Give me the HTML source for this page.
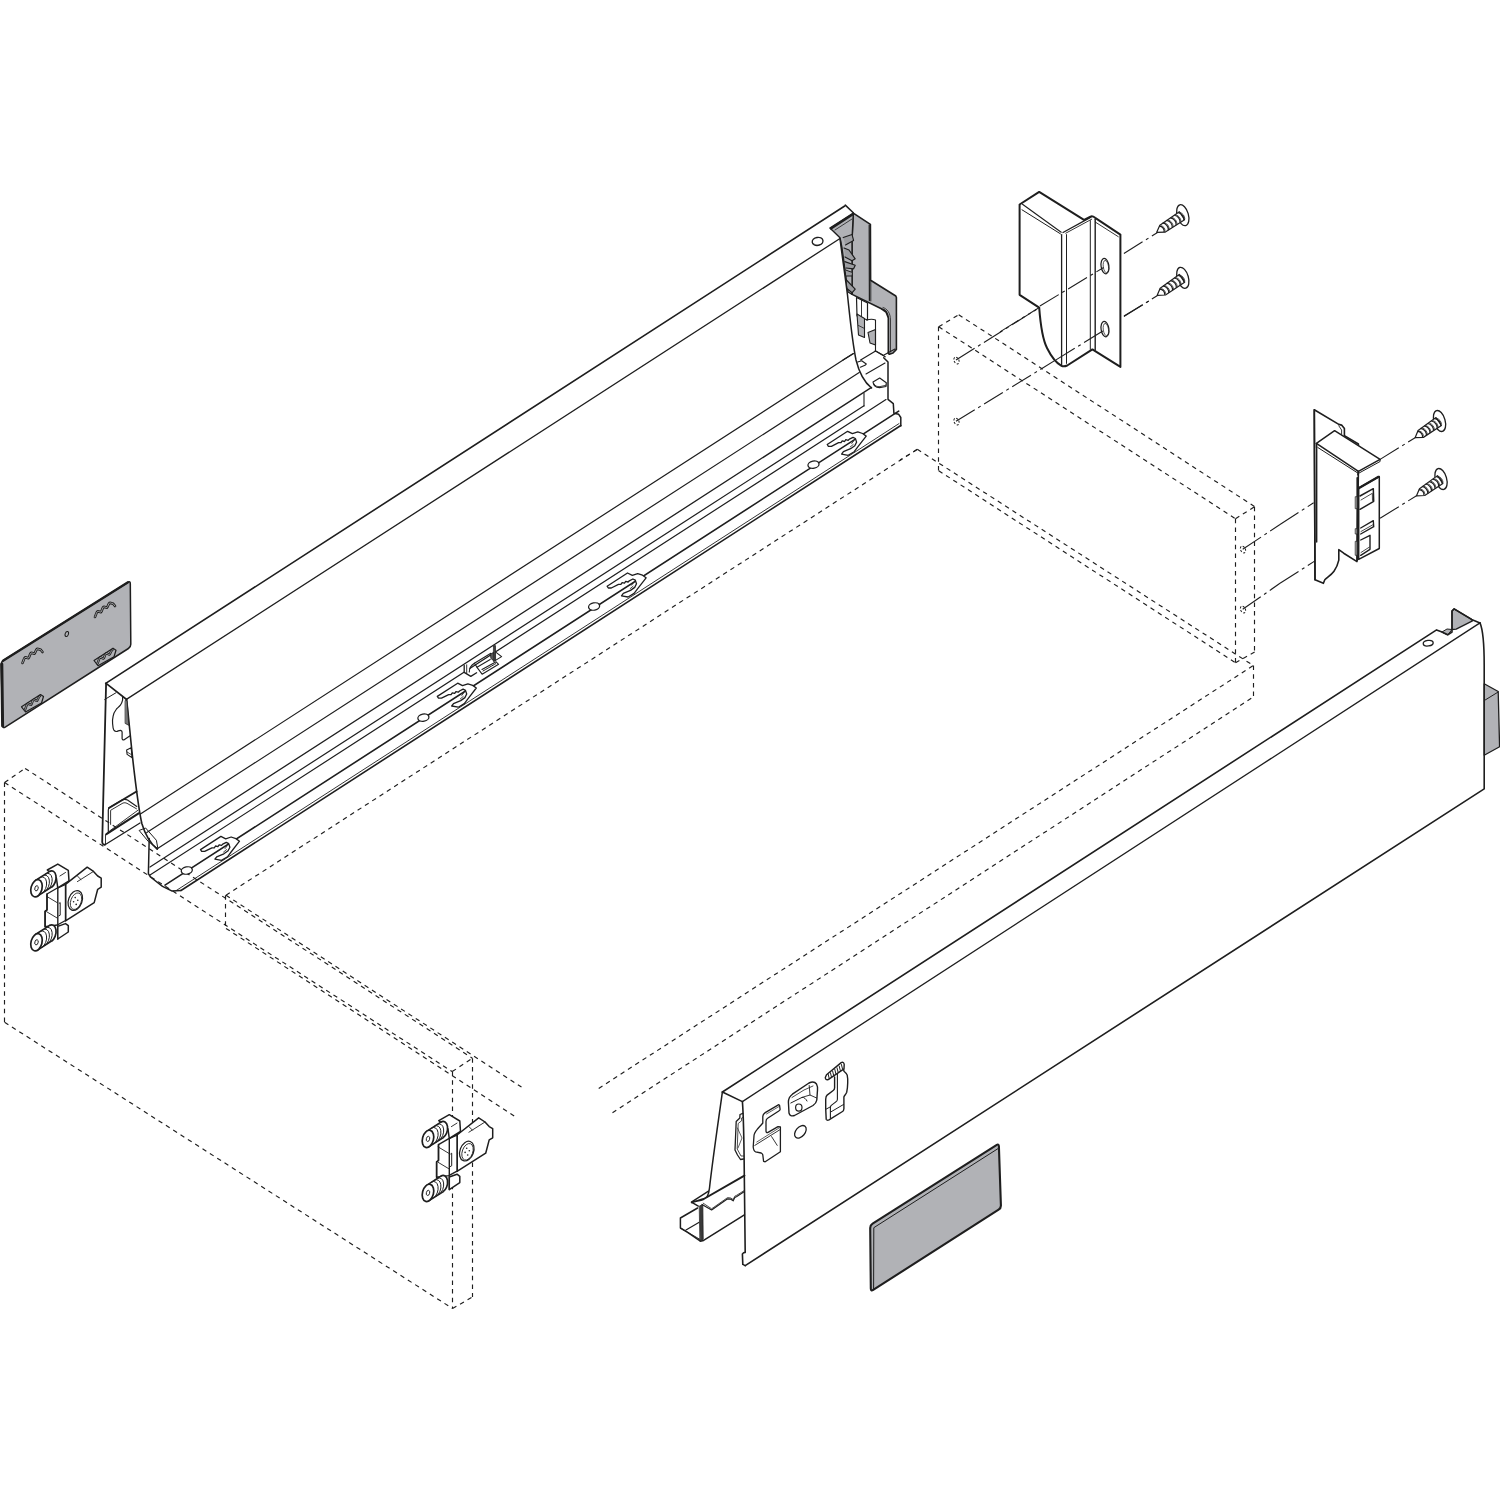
<!DOCTYPE html>
<html><head><meta charset="utf-8"><style>
html,body{margin:0;padding:0;background:#fff;}
svg{display:block;}
</style></head><body>
<svg width="1500" height="1500" viewBox="0 0 1500 1500">
<rect width="1500" height="1500" fill="#fff"/>
<line x1="4.5" y1="782.5" x2="4.5" y2="1022.3" stroke="#1e1e1e" stroke-width="1.15" stroke-dasharray="4.5,4.2" stroke-linecap="butt"/>
<line x1="4.6" y1="1022.3" x2="452.5" y2="1308.5" stroke="#1e1e1e" stroke-width="1.15" stroke-dasharray="4.5,4.2" stroke-linecap="butt"/>
<line x1="452.5" y1="1071.6" x2="452.5" y2="1308.5" stroke="#1e1e1e" stroke-width="1.15" stroke-dasharray="4.5,4.2" stroke-linecap="butt"/>
<line x1="4.6" y1="782.5" x2="452.2" y2="1071.6" stroke="#1e1e1e" stroke-width="1.15" stroke-dasharray="4.5,4.2" stroke-linecap="butt"/>
<line x1="25.1" y1="768.4" x2="472.4" y2="1058.2" stroke="#1e1e1e" stroke-width="1.15" stroke-dasharray="4.5,4.2" stroke-linecap="butt"/>
<line x1="4.6" y1="782.5" x2="25.1" y2="768.4" stroke="#1e1e1e" stroke-width="1.15" stroke-dasharray="4.5,4.2" stroke-linecap="butt"/>
<line x1="452.2" y1="1071.6" x2="472.4" y2="1058.2" stroke="#1e1e1e" stroke-width="1.15" stroke-dasharray="4.5,4.2" stroke-linecap="butt"/>
<line x1="472.5" y1="1058.2" x2="472.5" y2="1296.9" stroke="#1e1e1e" stroke-width="1.15" stroke-dasharray="4.5,4.2" stroke-linecap="butt"/>
<line x1="452.5" y1="1308.5" x2="472.6" y2="1296.9" stroke="#1e1e1e" stroke-width="1.15" stroke-dasharray="4.5,4.2" stroke-linecap="butt"/>
<line x1="225.5" y1="895.2" x2="225.5" y2="928.4" stroke="#1e1e1e" stroke-width="1.15" stroke-dasharray="4.5,4.2" stroke-linecap="butt"/>
<line x1="226.0" y1="895.2" x2="521.5" y2="1087.1" stroke="#1e1e1e" stroke-width="1.15" stroke-dasharray="4.5,4.2" stroke-linecap="butt"/>
<line x1="226.0" y1="928.4" x2="517.2" y2="1117.9" stroke="#1e1e1e" stroke-width="1.15" stroke-dasharray="4.5,4.2" stroke-linecap="butt"/>
<line x1="226.0" y1="895.2" x2="917.3" y2="449.3" stroke="#1e1e1e" stroke-width="1.15" stroke-dasharray="4.5,4.2" stroke-linecap="butt"/>
<line x1="598.7" y1="1088.4" x2="1253.3" y2="665.5" stroke="#1e1e1e" stroke-width="1.15" stroke-dasharray="4.5,4.2" stroke-linecap="butt"/>
<line x1="612.5" y1="1112.7" x2="1253.3" y2="697.0" stroke="#1e1e1e" stroke-width="1.15" stroke-dasharray="4.5,4.2" stroke-linecap="butt"/>
<line x1="917.3" y1="449.3" x2="1253.3" y2="665.5" stroke="#1e1e1e" stroke-width="1.15" stroke-dasharray="4.5,4.2" stroke-linecap="butt"/>
<line x1="1253.5" y1="665.5" x2="1253.5" y2="697.0" stroke="#1e1e1e" stroke-width="1.15" stroke-dasharray="4.5,4.2" stroke-linecap="butt"/>
<line x1="917.3" y1="449.3" x2="900.0" y2="460.0" stroke="#1e1e1e" stroke-width="1.15" stroke-dasharray="4.5,4.2" stroke-linecap="butt"/>
<line x1="938.5" y1="326.7" x2="938.5" y2="470.7" stroke="#1e1e1e" stroke-width="1.15" stroke-dasharray="4.5,4.2" stroke-linecap="butt"/>
<line x1="938.7" y1="326.7" x2="958.7" y2="314.7" stroke="#1e1e1e" stroke-width="1.15" stroke-dasharray="4.5,4.2" stroke-linecap="butt"/>
<line x1="938.7" y1="326.7" x2="1235.5" y2="518.7" stroke="#1e1e1e" stroke-width="1.15" stroke-dasharray="4.5,4.2" stroke-linecap="butt"/>
<line x1="958.7" y1="314.7" x2="1254.7" y2="506.7" stroke="#1e1e1e" stroke-width="1.15" stroke-dasharray="4.5,4.2" stroke-linecap="butt"/>
<line x1="1235.5" y1="518.7" x2="1254.7" y2="506.7" stroke="#1e1e1e" stroke-width="1.15" stroke-dasharray="4.5,4.2" stroke-linecap="butt"/>
<line x1="1235.5" y1="518.7" x2="1235.5" y2="662.7" stroke="#1e1e1e" stroke-width="1.15" stroke-dasharray="4.5,4.2" stroke-linecap="butt"/>
<line x1="1254.5" y1="506.7" x2="1254.5" y2="652.0" stroke="#1e1e1e" stroke-width="1.15" stroke-dasharray="4.5,4.2" stroke-linecap="butt"/>
<line x1="938.7" y1="470.7" x2="1235.5" y2="662.7" stroke="#1e1e1e" stroke-width="1.15" stroke-dasharray="4.5,4.2" stroke-linecap="butt"/>
<line x1="1235.5" y1="662.7" x2="1254.7" y2="652.0" stroke="#1e1e1e" stroke-width="1.15" stroke-dasharray="4.5,4.2" stroke-linecap="butt"/>
<line x1="105.7" y1="683.4" x2="844.7" y2="206.0" stroke="#1e1e1e" stroke-width="1.6" stroke-linecap="round"/>
<line x1="126.4" y1="699.4" x2="840.0" y2="238.5" stroke="#1e1e1e" stroke-width="1.3" stroke-linecap="round"/>
<line x1="140.4" y1="814.0" x2="852.8" y2="353.8" stroke="#1e1e1e" stroke-width="1.2" stroke-linecap="round"/>
<line x1="146.8" y1="832.6" x2="859.2" y2="372.4" stroke="#1e1e1e" stroke-width="1.2" stroke-linecap="round"/>
<line x1="157.2" y1="848.8" x2="871.5" y2="387.4" stroke="#1e1e1e" stroke-width="1.3" stroke-linecap="round"/>
<line x1="150.0" y1="867.0" x2="864.0" y2="405.8" stroke="#1e1e1e" stroke-width="1.2" stroke-linecap="round"/>
<line x1="150.0" y1="875.1" x2="886.0" y2="399.6" stroke="#1e1e1e" stroke-width="1.2" stroke-linecap="round"/>
<line x1="165.0" y1="885.1" x2="898.7" y2="411.1" stroke="#1e1e1e" stroke-width="1.6" stroke-linecap="round"/>
<line x1="181.0" y1="890.5" x2="900.8" y2="425.5" stroke="#1e1e1e" stroke-width="1.6" stroke-linecap="round"/>
<line x1="176.0" y1="890.7" x2="899.0" y2="423.6" stroke="#1e1e1e" stroke-width="0.9" stroke-linecap="round"/>
<path d="M106.1,683.3 L126.6,699.5" fill="none" stroke="#1e1e1e" stroke-width="1.6" stroke-linejoin="round" stroke-linecap="round" />
<path d="M106.1,683.3 L102.2,842 Q102.5,845 105,844.7" fill="none" stroke="#1e1e1e" stroke-width="1.8" stroke-linejoin="round" stroke-linecap="round" />
<path d="M105.5,834.6 L105.5,844.4" fill="none" stroke="#1e1e1e" stroke-width="0.9" stroke-linejoin="round" stroke-linecap="round" />
<path d="M104.7,699.5 L115.9,692.8" fill="none" stroke="#1e1e1e" stroke-width="1.0" stroke-linejoin="round" stroke-linecap="round" />
<path d="M126.6,699.5 C129,720 131,745 134,770 C137,795 139,812 142,824 C145,834 150,843 157.2,849.2" fill="none" stroke="#1e1e1e" stroke-width="1.6" stroke-linejoin="round" stroke-linecap="round" />
<path d="M122.6,697.3 L122.6,700.1 C122,702.5 121.5,703.8 120.4,705.1 C119,706.8 117.6,707.8 116.5,709 C114.6,711.5 113.4,713.5 113.1,716.3 C112.4,719 112.4,721.5 112.6,723.6 C112.8,726 113,728.5 113.7,729.8 C114.6,731 115.5,731.6 116.5,731.5 C117.8,731.3 119.2,730.2 120.4,730.3 C121.5,730.5 122.1,731.2 122.1,732 L122.1,738.7 C122.3,739.5 123,740.2 123.8,739.9 L129.7,736" fill="none" stroke="#1e1e1e" stroke-width="1.2" stroke-linejoin="round" stroke-linecap="round" />
<path d="M125.5,700.6 L127.1,700.6 L128.8,725.3 L125.5,723.6 Z" fill="#777" stroke="#1e1e1e" stroke-width="0.8" stroke-linejoin="round" stroke-linecap="round" />
<path d="M126.6,750.0 L131.1,747.7 L132.2,757.8 L127.1,754.4 Z" fill="none" stroke="#1e1e1e" stroke-width="1.1" stroke-linejoin="round" stroke-linecap="round" />
<path d="M127.1,752 L132,755" fill="none" stroke="#1e1e1e" stroke-width="0.8" stroke-linejoin="round" stroke-linecap="round" />
<path d="M109,808 L136.5,791.5" fill="none" stroke="#1e1e1e" stroke-width="2.0" stroke-linejoin="round" stroke-linecap="round" />
<path d="M108.3,832.8 L108.3,810 Q108.3,807.5 110.5,806.8 L122.5,799.8 Q125,798.8 127.5,800 L136.8,806.5" fill="none" stroke="#1e1e1e" stroke-width="1.2" stroke-linejoin="round" stroke-linecap="round" />
<path d="M110.6,824.4 L110.6,810.3 L123,803 Q125,802.3 127,803.3 L136.5,808.8" fill="none" stroke="#1e1e1e" stroke-width="0.9" stroke-linejoin="round" stroke-linecap="round" />
<path d="M106.4,834.2 L138.6,813.3" fill="none" stroke="#1e1e1e" stroke-width="2.1" stroke-linejoin="round" stroke-linecap="round" />
<path d="M109.7,830.9 L138,810.2" fill="none" stroke="#1e1e1e" stroke-width="0.9" stroke-linejoin="round" stroke-linecap="round" />
<path d="M105,844.7 L140,823" fill="none" stroke="#1e1e1e" stroke-width="1.3" stroke-linejoin="round" stroke-linecap="round" />
<path d="M139.5,830.3 L145.6,828.0 L156.4,840.3 L157.9,848.7 L148.7,841.8 Z" fill="none" stroke="#1e1e1e" stroke-width="1.0" stroke-linejoin="round" stroke-linecap="round" />
<path d="M149.2,838.4 L148.4,873.6 L150.5,877 L162.5,886.3 L171.7,890.9 L181,890.4" fill="none" stroke="#1e1e1e" stroke-width="1.5" stroke-linejoin="round" stroke-linecap="round" />
<ellipse cx="186.8" cy="870.5" rx="5.6" ry="3.6" fill="#fff" stroke="#1e1e1e" stroke-width="1.3" transform="rotate(-12 186.8 870.5)"/>
<ellipse cx="423.4" cy="717.7" rx="5.6" ry="3.6" fill="#fff" stroke="#1e1e1e" stroke-width="1.3" transform="rotate(-12 423.4 717.7)"/>
<ellipse cx="594.1" cy="606.5" rx="5.6" ry="3.6" fill="#fff" stroke="#1e1e1e" stroke-width="1.3" transform="rotate(-12 594.1 606.5)"/>
<ellipse cx="813.5" cy="464.7" rx="5.6" ry="3.6" fill="#fff" stroke="#1e1e1e" stroke-width="1.3" transform="rotate(-12 813.5 464.7)"/>
<g transform="translate(200.5,849.6)">
<path d="M0,0 L20.4,-13.2 L25.2,-10.8 L30.6,-12.6 L35.4,-11 L39,-8.4 L30.6,2.4 L27,7.2 L21,10.8 L14.4,9.6 L16.2,7.2 L23.4,4.2 L27.6,1.2 L29.4,-2.4 L28.2,-6 L25.8,-7.2 L22.2,-5.4 L21,-4.2 L18.6,-4.8 L17.4,-3 L15,-3.6 L13.8,-1.8 L11.4,-1.8 L4.2,1.8 L1.2,1.8 Z" fill="#fff" stroke="#1e1e1e" stroke-width="1.3" stroke-linejoin="round" stroke-linecap="round" />
<path d="M24.5,-1 L26.5,-3.5 M23,2.5 L26,0" fill="none" stroke="#1e1e1e" stroke-width="0.8" stroke-linejoin="round" stroke-linecap="round" />
</g>
<line x1="192.5" y1="854.8" x2="226.5" y2="845.8" stroke="#1e1e1e" stroke-width="0" stroke-linecap="round"/>
<g transform="translate(437.3,696.4)">
<path d="M0,0 L20.4,-13.2 L25.2,-10.8 L30.6,-12.6 L35.4,-11 L39,-8.4 L30.6,2.4 L27,7.2 L21,10.8 L14.4,9.6 L16.2,7.2 L23.4,4.2 L27.6,1.2 L29.4,-2.4 L28.2,-6 L25.8,-7.2 L22.2,-5.4 L21,-4.2 L18.6,-4.8 L17.4,-3 L15,-3.6 L13.8,-1.8 L11.4,-1.8 L4.2,1.8 L1.2,1.8 Z" fill="#fff" stroke="#1e1e1e" stroke-width="1.3" stroke-linejoin="round" stroke-linecap="round" />
<path d="M24.5,-1 L26.5,-3.5 M23,2.5 L26,0" fill="none" stroke="#1e1e1e" stroke-width="0.8" stroke-linejoin="round" stroke-linecap="round" />
</g>
<line x1="429.3" y1="701.6" x2="463.3" y2="692.6" stroke="#1e1e1e" stroke-width="0" stroke-linecap="round"/>
<g transform="translate(607.1,586.2)">
<path d="M0,0 L20.4,-13.2 L25.2,-10.8 L30.6,-12.6 L35.4,-11 L39,-8.4 L30.6,2.4 L27,7.2 L21,10.8 L14.4,9.6 L16.2,7.2 L23.4,4.2 L27.6,1.2 L29.4,-2.4 L28.2,-6 L25.8,-7.2 L22.2,-5.4 L21,-4.2 L18.6,-4.8 L17.4,-3 L15,-3.6 L13.8,-1.8 L11.4,-1.8 L4.2,1.8 L1.2,1.8 Z" fill="#fff" stroke="#1e1e1e" stroke-width="1.3" stroke-linejoin="round" stroke-linecap="round" />
<path d="M24.5,-1 L26.5,-3.5 M23,2.5 L26,0" fill="none" stroke="#1e1e1e" stroke-width="0.8" stroke-linejoin="round" stroke-linecap="round" />
</g>
<line x1="599.1" y1="591.4" x2="633.1" y2="582.4" stroke="#1e1e1e" stroke-width="0" stroke-linecap="round"/>
<g transform="translate(827.2,444.5)">
<path d="M0,0 L20.4,-13.2 L25.2,-10.8 L30.6,-12.6 L35.4,-11 L39,-8.4 L30.6,2.4 L27,7.2 L21,10.8 L14.4,9.6 L16.2,7.2 L23.4,4.2 L27.6,1.2 L29.4,-2.4 L28.2,-6 L25.8,-7.2 L22.2,-5.4 L21,-4.2 L18.6,-4.8 L17.4,-3 L15,-3.6 L13.8,-1.8 L11.4,-1.8 L4.2,1.8 L1.2,1.8 Z" fill="#fff" stroke="#1e1e1e" stroke-width="1.3" stroke-linejoin="round" stroke-linecap="round" />
<path d="M24.5,-1 L26.5,-3.5 M23,2.5 L26,0" fill="none" stroke="#1e1e1e" stroke-width="0.8" stroke-linejoin="round" stroke-linecap="round" />
</g>
<line x1="819.2" y1="449.7" x2="853.2" y2="440.7" stroke="#1e1e1e" stroke-width="0" stroke-linecap="round"/>
<path d="M464.2,665.4 L464.2,672.4 L470.8,676.4 L476.6,672.8" fill="#fff" stroke="#1e1e1e" stroke-width="1.3" stroke-linejoin="round" stroke-linecap="round" />
<path d="M466.7,664.8 L466.7,673" fill="none" stroke="#1e1e1e" stroke-width="0.9" stroke-linejoin="round" stroke-linecap="round" />
<path d="M469.3,672 C469.3,668 471.5,665 474.4,663.2 L490.9,653.3" fill="none" stroke="#1e1e1e" stroke-width="1.1" stroke-linejoin="round" stroke-linecap="round" />
<path d="M474.4,663.2 L477,667.3 L490.2,659.6" fill="none" stroke="#1e1e1e" stroke-width="1.1" stroke-linejoin="round" stroke-linecap="round" />
<path d="M477,667.3 L482.1,674.2 L498.6,664.3 L496.1,661.8 L482,669.5" fill="none" stroke="#1e1e1e" stroke-width="1.1" stroke-linejoin="round" stroke-linecap="round" />
<path d="M483,671 L496,663.5" fill="none" stroke="#1e1e1e" stroke-width="1.0" stroke-linejoin="round" stroke-linecap="round" stroke-dasharray="1,0.7"/>
<path d="M496.4,652.6 L501.6,656.6 L493.9,661.4" fill="none" stroke="#1e1e1e" stroke-width="1.1" stroke-linejoin="round" stroke-linecap="round" />
<path d="M493.9,645.8 L495.4,645.5 L495.6,660.5 L493.6,661 Z" fill="#444" stroke="#1e1e1e" stroke-width="0.8" stroke-linejoin="round" stroke-linecap="round" />
<path d="M490.6,654.2 L493.6,652.3 L494,660.5 L491.2,658.8 Z" fill="#555" stroke="#1e1e1e" stroke-width="0.8" stroke-linejoin="round" stroke-linecap="round" />
<path d="M845.3,205.1 L853.3,212.8" fill="none" stroke="#1e1e1e" stroke-width="1.5" stroke-linejoin="round" stroke-linecap="round" />
<ellipse cx="817.6" cy="241.4" rx="5.4" ry="4.0" fill="#fff" stroke="#1e1e1e" stroke-width="1.4" transform="rotate(-10 817.6 241.4)"/>
<path d="M813.5,243.5 C815,246 820,246 822.5,243" fill="none" stroke="#1e1e1e" stroke-width="0.8" stroke-linejoin="round" stroke-linecap="round" />
<path d="M853.3,213.1 L870.4,224.3 L870.6,280.2 L895.8,296.0 L896.4,297.5 L896.4,349.4 L893.0,353.0 L889.4,354.2 L888.4,353.6 L888.4,318.0 L886.0,312.0 L881.4,308.8 L852.1,294.4 L852.0,240.0 Z" fill="#b1b2b6" stroke="#1e1e1e" stroke-width="1.6" stroke-linejoin="round" stroke-linecap="round" />
<path d="M869.2,225 L869.4,300.5" fill="none" stroke="#1e1e1e" stroke-width="1.2" stroke-linejoin="round" stroke-linecap="round" />
<path d="M870.8,280.8 L870.8,301" fill="none" stroke="#1e1e1e" stroke-width="0.9" stroke-linejoin="round" stroke-linecap="round" />
<path d="M888.4,353 L888.4,318 C888.4,313 885,309 881.4,308.8" fill="none" stroke="#1e1e1e" stroke-width="1.1" stroke-linejoin="round" stroke-linecap="round" />
<path d="M890.5,352 L890.5,320 C890.5,313 887,308.5 883,307.5" fill="none" stroke="#1e1e1e" stroke-width="0.8" stroke-linejoin="round" stroke-linecap="round" />
<path d="M856.5,297.5 L867.5,303 L867.5,320 L857,316 Z" fill="#fff" stroke="#1e1e1e" stroke-width="1.2" stroke-linejoin="round" stroke-linecap="round" />
<path d="M861.5,299.5 L861.5,318" fill="none" stroke="#1e1e1e" stroke-width="0.9" stroke-linejoin="round" stroke-linecap="round" />
<path d="M857,314 L864.5,318.5 L864.5,337.5 L858.5,335 Z" fill="#b1b2b6" stroke="#1e1e1e" stroke-width="1.1" stroke-linejoin="round" stroke-linecap="round" />
<path d="M858.5,325.5 L864.5,328.5" fill="none" stroke="#1e1e1e" stroke-width="0.8" stroke-linejoin="round" stroke-linecap="round" />
<path d="M868,332.5 L875.5,329.5 L875.5,345 L870,343 Z" fill="#b1b2b6" stroke="#1e1e1e" stroke-width="1.1" stroke-linejoin="round" stroke-linecap="round" />
<path d="M866.5,320 C870,319 873,319 875.5,320 L875.5,351" fill="none" stroke="#1e1e1e" stroke-width="1.1" stroke-linejoin="round" stroke-linecap="round" />
<path d="M853.7,353.6 L843,360 M860.6,360 L875.6,351 L885.2,356.8" fill="none" stroke="#1e1e1e" stroke-width="1.2" stroke-linejoin="round" stroke-linecap="round" />
<path d="M829.9,228.1 L853.3,213.1 L852.0,240.0 L852.1,294.4 L848.0,292.0 L842.0,248.0 L840.0,237.7 Z" fill="#b1b2b6" stroke="#1e1e1e" stroke-width="1.4" stroke-linejoin="round" stroke-linecap="round" />
<path d="M831,228.5 L852.5,214.5" fill="none" stroke="#1e1e1e" stroke-width="2.2" stroke-linejoin="round" stroke-linecap="round" />
<path d="M835,230 L852,219" fill="none" stroke="#1e1e1e" stroke-width="0.8" stroke-linejoin="round" stroke-linecap="round" />
<path d="M843.2,237.6 L852,234.4 L853.6,240.5 L845.5,245" fill="#9c9da1" stroke="#1e1e1e" stroke-width="1.1" stroke-linejoin="round" stroke-linecap="round" />
<path d="M844,248 L849,250 L855.2,258.8 L852,260.8 L845,257" fill="#9c9da1" stroke="#1e1e1e" stroke-width="1.2" stroke-linejoin="round" stroke-linecap="round" />
<path d="M844.8,261.6 L855.2,265.2 L853.6,268.8 L846,268" fill="#9c9da1" stroke="#1e1e1e" stroke-width="1.2" stroke-linejoin="round" stroke-linecap="round" />
<path d="M845.6,270 L852.5,272.5 L852,276 L846.3,276" fill="#9c9da1" stroke="#1e1e1e" stroke-width="1.0" stroke-linejoin="round" stroke-linecap="round" />
<path d="M846.4,280 L855.2,289.2 L852,292.8 L847.5,289" fill="#9c9da1" stroke="#1e1e1e" stroke-width="1.2" stroke-linejoin="round" stroke-linecap="round" />
<path d="M840,238.4 C842,255 845,275 847.5,295 C850,318 852,340 856,360 C859,372 864,382 871.5,388" fill="none" stroke="#1e1e1e" stroke-width="1.5" stroke-linejoin="round" stroke-linecap="round" />
<path d="M875.2,350.8 L883.7,355.6" fill="none" stroke="#1e1e1e" stroke-width="1.1" stroke-linejoin="round" stroke-linecap="round" />
<path d="M883.7,357.7 L888,362 L888,399.3 L893.3,403.6 L893.9,413.2 L898.7,414.3 L900.8,417.5 L900.8,426" fill="none" stroke="#1e1e1e" stroke-width="1.5" stroke-linejoin="round" stroke-linecap="round" />
<path d="M864,393.5 L864,406" fill="none" stroke="#1e1e1e" stroke-width="1.1" stroke-linejoin="round" stroke-linecap="round" />
<path d="M857.7,362 L861.7,360.7 L866.3,364 L865,365.3 L860.3,367.3" fill="none" stroke="#1e1e1e" stroke-width="1.1" stroke-linejoin="round" stroke-linecap="round" />
<path d="M866,374 L885,363" fill="none" stroke="#1e1e1e" stroke-width="1.1" stroke-linejoin="round" stroke-linecap="round" />
<path d="M873,382 L879.7,378 L886.3,382.7 L886,386.5 L879.5,387.7 C876,387.5 873.5,385.5 873,382 Z" fill="#fff" stroke="#1e1e1e" stroke-width="1.2" stroke-linejoin="round" stroke-linecap="round" />
<path d="M874,383.8 C875,386 877,386.8 880,386.6 L886,385.2" fill="none" stroke="#1e1e1e" stroke-width="0.8" stroke-linejoin="round" stroke-linecap="round" />
<path d="M884,355 L895,349" fill="none" stroke="#1e1e1e" stroke-width="1.1" stroke-linejoin="round" stroke-linecap="round" />
<path d="M1.1,664.5 Q1.1,661.8 3.4,660.4 L127.9,582.3 Q130.3,580.8 130.3,583.6 L130.8,644.2 Q130.8,647 128.4,648.5 L5.2,727.1 Q2.8,728.6 2.8,725.8 Z" fill="#b1b2b6" stroke="#1e1e1e" stroke-width="1.5" stroke-linejoin="round" stroke-linecap="round" />
<path d="M3,660.8 L128,582.3" fill="none" stroke="#1e1e1e" stroke-width="2.4" stroke-linejoin="round" stroke-linecap="round" />
<path d="M1.8,664 L2.6,726" fill="none" stroke="#1e1e1e" stroke-width="3.0" stroke-linejoin="round" stroke-linecap="round" />
<ellipse cx="66.8" cy="634" rx="1.6" ry="2.6" fill="none" stroke="#1e1e1e" stroke-width="1.0" transform="rotate(20 66.8 634)"/>
<path d="M22.5,663 C23.5,661 24.0,658 25.0,657.5 C26.5,657 27.5,658.5 28.5,658 C29.5,657 30.0,653.5 31.0,653 C32.5,652.5 33.5,654 34.5,653.5 C35.5,652.5 36.0,649.5 37.0,649 C38.5,648.5 39.5,650 40.5,649.5 L42.5,652" fill="none" stroke="#1e1e1e" stroke-width="2.6" stroke-linejoin="round" stroke-linecap="round" />
<path d="M22.5,663 C23.5,661 24.0,658 25.0,657.5 C26.5,657 27.5,658.5 28.5,658 C29.5,657 30.0,653.5 31.0,653 C32.5,652.5 33.5,654 34.5,653.5 C35.5,652.5 36.0,649.5 37.0,649 C38.5,648.5 39.5,650 40.5,649.5 L42.5,652" fill="none" stroke="#b1b2b6" stroke-width="0.9" stroke-linejoin="round" stroke-linecap="round" />
<path d="M95,617 C96,615 96.5,612 97.5,611.5 C99,611 100,612.5 101,612 C102,611 102.5,607.5 103.5,607 C105,606.5 106,608 107,607.5 C108,606.5 108.5,603.5 109.5,603 C111,602.5 112,604 113,603.5 L115,606" fill="none" stroke="#1e1e1e" stroke-width="2.6" stroke-linejoin="round" stroke-linecap="round" />
<path d="M95,617 C96,615 96.5,612 97.5,611.5 C99,611 100,612.5 101,612 C102,611 102.5,607.5 103.5,607 C105,606.5 106,608 107,607.5 C108,606.5 108.5,603.5 109.5,603 C111,602.5 112,604 113,603.5 L115,606" fill="none" stroke="#b1b2b6" stroke-width="0.9" stroke-linejoin="round" stroke-linecap="round" />
<path d="M21.5,706.8 L40.5,694.5 L43.5,696.5 L41.5,703.0 L25.5,712.0 Z" fill="none" stroke="#1e1e1e" stroke-width="1.2" stroke-linejoin="round" stroke-linecap="round" />
<path d="M25.0,709.8 C26.0,707.8 26.5,704.8 27.5,703.8 C29.0,703.3 30.0,705.3 31.0,704.8 C32.0,703.8 32.5,700.3 33.5,699.8 C35.0,699.3 36.0,701.3 37.0,700.8 C38.0,699.8 38.5,696.8 40.0,696.0" fill="none" stroke="#1e1e1e" stroke-width="2.4" stroke-linejoin="round" stroke-linecap="round" />
<path d="M25.0,709.8 C26.0,707.8 26.5,704.8 27.5,703.8 C29.0,703.3 30.0,705.3 31.0,704.8 C32.0,703.8 32.5,700.3 33.5,699.8 C35.0,699.3 36.0,701.3 37.0,700.8 C38.0,699.8 38.5,696.8 40.0,696.0" fill="none" stroke="#b1b2b6" stroke-width="0.8" stroke-linejoin="round" stroke-linecap="round" />
<path d="M94.0,660.5 L113.0,648.2 L116.0,650.2 L114.0,656.7 L98.0,665.7 Z" fill="none" stroke="#1e1e1e" stroke-width="1.2" stroke-linejoin="round" stroke-linecap="round" />
<path d="M97.5,663.5 C98.5,661.5 99,658.5 100,657.5 C101.5,657.0 102.5,659.0 103.5,658.5 C104.5,657.5 105,654.0 106,653.5 C107.5,653.0 108.5,655.0 109.5,654.5 C110.5,653.5 111,650.5 112.5,649.7" fill="none" stroke="#1e1e1e" stroke-width="2.4" stroke-linejoin="round" stroke-linecap="round" />
<path d="M97.5,663.5 C98.5,661.5 99,658.5 100,657.5 C101.5,657.0 102.5,659.0 103.5,658.5 C104.5,657.5 105,654.0 106,653.5 C107.5,653.0 108.5,655.0 109.5,654.5 C110.5,653.5 111,650.5 112.5,649.7" fill="none" stroke="#b1b2b6" stroke-width="0.8" stroke-linejoin="round" stroke-linecap="round" />
<g>
<path d="M65.5,884.4 L87.2,867.2 L93.5,871.4 L97.7,876.0 L101.2,878.1 L101.2,887.2 L97.7,889.3 L94.2,902.6 L65.5,920.8 Z" fill="#fff" stroke="#1e1e1e" stroke-width="1.5" stroke-linejoin="round" stroke-linecap="round" />
<path d="M65.5,884.4 L65.5,920.8" fill="none" stroke="#1e1e1e" stroke-width="1.4" stroke-linejoin="round" stroke-linecap="round" />
<path d="M77.4,876.0 L80.9,879.5" fill="none" stroke="#1e1e1e" stroke-width="0.9" stroke-linejoin="round" stroke-linecap="round" />
<path d="M93.5,871.4 L77.4,881.6" fill="none" stroke="#1e1e1e" stroke-width="0.9" stroke-linejoin="round" stroke-linecap="round" />
<ellipse cx="75.3" cy="900.5" rx="6.8" ry="10.2" fill="#fff" stroke="#1e1e1e" stroke-width="1.2" transform="rotate(20 75.3 900.5)"/>
<ellipse cx="76.0" cy="901.2" rx="5.2" ry="8.6" fill="none" stroke="#1e1e1e" stroke-width="0.8" transform="rotate(20 76.0 901.2)"/>
<circle cx="75.2" cy="897.6" r="0.8" fill="#1e1e1e"/>
<circle cx="77.8" cy="900.2" r="0.8" fill="#1e1e1e"/>
<circle cx="73.6" cy="901.8" r="0.8" fill="#1e1e1e"/>
<circle cx="76.2" cy="904.4" r="0.8" fill="#1e1e1e"/>
<path d="M47,894 L57.3,888 L65.5,884.4 L65.5,920.5 L57.3,925 L45.1,926.7 L45.1,911.3 L47,909.9 Z" fill="#fff" stroke="#1e1e1e" stroke-width="1.4" stroke-linejoin="round" stroke-linecap="round" />
<path d="M57.8,888.6 L57.8,939.0" fill="none" stroke="#1e1e1e" stroke-width="1.4" stroke-linejoin="round" stroke-linecap="round" />
<path d="M46.6,896.3 L57.1,902.6" fill="none" stroke="#1e1e1e" stroke-width="0.9" stroke-linejoin="round" stroke-linecap="round" />
<path d="M46.6,911.7 L57.1,918.0" fill="none" stroke="#1e1e1e" stroke-width="0.9" stroke-linejoin="round" stroke-linecap="round" />
<path d="M59.2,903.3 L60.2,902.6 L60.2,915.2 L58.8,915.9" fill="none" stroke="#1e1e1e" stroke-width="1.0" stroke-linejoin="round" stroke-linecap="round" />
<path d="M47,894 L47,909.9 L45.1,911.3 L45.1,926.7" fill="none" stroke="#1e1e1e" stroke-width="1.5" stroke-linejoin="round" stroke-linecap="round" />
<path d="M47.3,870.0 L57.8,864.1 L68.3,870.4 L69.0,880.9 L57.8,887.9 L56.4,878.1 Z" fill="#fff" stroke="#1e1e1e" stroke-width="1.5" stroke-linejoin="round" stroke-linecap="round" />
<path d="M59.9,876.0 L65.5,872.5" fill="none" stroke="#1e1e1e" stroke-width="0.9" stroke-linejoin="round" stroke-linecap="round" />
<path d="M57.8,926.4 L65.5,923.6 L68.3,925.7 L68.3,932.0 L57.8,939.0 Z" fill="#fff" stroke="#1e1e1e" stroke-width="1.5" stroke-linejoin="round" stroke-linecap="round" />
<path d="M35.38,880.48 L49.27,871.59 A5.5,8.8 15 0 1 51.52,887.22 L37.62,896.12 Z" fill="#fff" stroke="none"/>
<path d="M49.27,871.59 A5.5,8.8 15 0 1 51.52,887.22" fill="none" stroke="#1e1e1e" stroke-width="1.7"/>
<line x1="35.4" y1="880.5" x2="49.3" y2="871.6" stroke="#1e1e1e" stroke-width="1.5" stroke-linecap="round"/>
<line x1="37.6" y1="896.1" x2="51.5" y2="887.2" stroke="#1e1e1e" stroke-width="1.5" stroke-linecap="round"/>
<path d="M39.82,877.64 A5.5,8.8 15 0 1 42.07,893.27" fill="none" stroke="#1e1e1e" stroke-width="1.0"/>
<path d="M42.60,875.86 A5.5,8.8 15 0 1 44.85,891.49" fill="none" stroke="#1e1e1e" stroke-width="1.0"/>
<path d="M45.38,874.08 A5.5,8.8 15 0 1 47.63,889.71" fill="none" stroke="#1e1e1e" stroke-width="1.0"/>
<ellipse cx="36.50" cy="888.30" rx="5.5" ry="8.8" fill="#fff" stroke="#1e1e1e" stroke-width="1.7" transform="rotate(15 36.50 888.30)"/>
<ellipse cx="36.50" cy="888.30" rx="1.65" ry="2.64" fill="none" stroke="#1e1e1e" stroke-width="0.9" transform="rotate(15 36.50 888.30)"/>
<path d="M35.38,934.48 L49.27,925.59 A5.5,8.8 15 0 1 51.52,941.22 L37.62,950.12 Z" fill="#fff" stroke="none"/>
<path d="M49.27,925.59 A5.5,8.8 15 0 1 51.52,941.22" fill="none" stroke="#1e1e1e" stroke-width="1.7"/>
<line x1="35.4" y1="934.5" x2="49.3" y2="925.6" stroke="#1e1e1e" stroke-width="1.5" stroke-linecap="round"/>
<line x1="37.6" y1="950.1" x2="51.5" y2="941.2" stroke="#1e1e1e" stroke-width="1.5" stroke-linecap="round"/>
<path d="M39.82,931.64 A5.5,8.8 15 0 1 42.07,947.27" fill="none" stroke="#1e1e1e" stroke-width="1.0"/>
<path d="M42.60,929.86 A5.5,8.8 15 0 1 44.85,945.49" fill="none" stroke="#1e1e1e" stroke-width="1.0"/>
<path d="M45.38,928.08 A5.5,8.8 15 0 1 47.63,943.71" fill="none" stroke="#1e1e1e" stroke-width="1.0"/>
<ellipse cx="36.50" cy="942.30" rx="5.5" ry="8.8" fill="#fff" stroke="#1e1e1e" stroke-width="1.7" transform="rotate(15 36.50 942.30)"/>
<ellipse cx="36.50" cy="942.30" rx="1.65" ry="2.64" fill="none" stroke="#1e1e1e" stroke-width="0.9" transform="rotate(15 36.50 942.30)"/>
</g>
<g transform="translate(391.5,250.6)">
<path d="M65.5,884.4 L87.2,867.2 L93.5,871.4 L97.7,876.0 L101.2,878.1 L101.2,887.2 L97.7,889.3 L94.2,902.6 L65.5,920.8 Z" fill="#fff" stroke="#1e1e1e" stroke-width="1.5" stroke-linejoin="round" stroke-linecap="round" />
<path d="M65.5,884.4 L65.5,920.8" fill="none" stroke="#1e1e1e" stroke-width="1.4" stroke-linejoin="round" stroke-linecap="round" />
<path d="M77.4,876.0 L80.9,879.5" fill="none" stroke="#1e1e1e" stroke-width="0.9" stroke-linejoin="round" stroke-linecap="round" />
<path d="M93.5,871.4 L77.4,881.6" fill="none" stroke="#1e1e1e" stroke-width="0.9" stroke-linejoin="round" stroke-linecap="round" />
<ellipse cx="75.3" cy="900.5" rx="6.8" ry="10.2" fill="#fff" stroke="#1e1e1e" stroke-width="1.2" transform="rotate(20 75.3 900.5)"/>
<ellipse cx="76.0" cy="901.2" rx="5.2" ry="8.6" fill="none" stroke="#1e1e1e" stroke-width="0.8" transform="rotate(20 76.0 901.2)"/>
<circle cx="75.2" cy="897.6" r="0.8" fill="#1e1e1e"/>
<circle cx="77.8" cy="900.2" r="0.8" fill="#1e1e1e"/>
<circle cx="73.6" cy="901.8" r="0.8" fill="#1e1e1e"/>
<circle cx="76.2" cy="904.4" r="0.8" fill="#1e1e1e"/>
<path d="M47,894 L57.3,888 L65.5,884.4 L65.5,920.5 L57.3,925 L45.1,926.7 L45.1,911.3 L47,909.9 Z" fill="#fff" stroke="#1e1e1e" stroke-width="1.4" stroke-linejoin="round" stroke-linecap="round" />
<path d="M57.8,888.6 L57.8,939.0" fill="none" stroke="#1e1e1e" stroke-width="1.4" stroke-linejoin="round" stroke-linecap="round" />
<path d="M46.6,896.3 L57.1,902.6" fill="none" stroke="#1e1e1e" stroke-width="0.9" stroke-linejoin="round" stroke-linecap="round" />
<path d="M46.6,911.7 L57.1,918.0" fill="none" stroke="#1e1e1e" stroke-width="0.9" stroke-linejoin="round" stroke-linecap="round" />
<path d="M59.2,903.3 L60.2,902.6 L60.2,915.2 L58.8,915.9" fill="none" stroke="#1e1e1e" stroke-width="1.0" stroke-linejoin="round" stroke-linecap="round" />
<path d="M47,894 L47,909.9 L45.1,911.3 L45.1,926.7" fill="none" stroke="#1e1e1e" stroke-width="1.5" stroke-linejoin="round" stroke-linecap="round" />
<path d="M47.3,870.0 L57.8,864.1 L68.3,870.4 L69.0,880.9 L57.8,887.9 L56.4,878.1 Z" fill="#fff" stroke="#1e1e1e" stroke-width="1.5" stroke-linejoin="round" stroke-linecap="round" />
<path d="M59.9,876.0 L65.5,872.5" fill="none" stroke="#1e1e1e" stroke-width="0.9" stroke-linejoin="round" stroke-linecap="round" />
<path d="M57.8,926.4 L65.5,923.6 L68.3,925.7 L68.3,932.0 L57.8,939.0 Z" fill="#fff" stroke="#1e1e1e" stroke-width="1.5" stroke-linejoin="round" stroke-linecap="round" />
<path d="M35.38,880.48 L49.27,871.59 A5.5,8.8 15 0 1 51.52,887.22 L37.62,896.12 Z" fill="#fff" stroke="none"/>
<path d="M49.27,871.59 A5.5,8.8 15 0 1 51.52,887.22" fill="none" stroke="#1e1e1e" stroke-width="1.7"/>
<line x1="35.4" y1="880.5" x2="49.3" y2="871.6" stroke="#1e1e1e" stroke-width="1.5" stroke-linecap="round"/>
<line x1="37.6" y1="896.1" x2="51.5" y2="887.2" stroke="#1e1e1e" stroke-width="1.5" stroke-linecap="round"/>
<path d="M39.82,877.64 A5.5,8.8 15 0 1 42.07,893.27" fill="none" stroke="#1e1e1e" stroke-width="1.0"/>
<path d="M42.60,875.86 A5.5,8.8 15 0 1 44.85,891.49" fill="none" stroke="#1e1e1e" stroke-width="1.0"/>
<path d="M45.38,874.08 A5.5,8.8 15 0 1 47.63,889.71" fill="none" stroke="#1e1e1e" stroke-width="1.0"/>
<ellipse cx="36.50" cy="888.30" rx="5.5" ry="8.8" fill="#fff" stroke="#1e1e1e" stroke-width="1.7" transform="rotate(15 36.50 888.30)"/>
<ellipse cx="36.50" cy="888.30" rx="1.65" ry="2.64" fill="none" stroke="#1e1e1e" stroke-width="0.9" transform="rotate(15 36.50 888.30)"/>
<path d="M35.38,934.48 L49.27,925.59 A5.5,8.8 15 0 1 51.52,941.22 L37.62,950.12 Z" fill="#fff" stroke="none"/>
<path d="M49.27,925.59 A5.5,8.8 15 0 1 51.52,941.22" fill="none" stroke="#1e1e1e" stroke-width="1.7"/>
<line x1="35.4" y1="934.5" x2="49.3" y2="925.6" stroke="#1e1e1e" stroke-width="1.5" stroke-linecap="round"/>
<line x1="37.6" y1="950.1" x2="51.5" y2="941.2" stroke="#1e1e1e" stroke-width="1.5" stroke-linecap="round"/>
<path d="M39.82,931.64 A5.5,8.8 15 0 1 42.07,947.27" fill="none" stroke="#1e1e1e" stroke-width="1.0"/>
<path d="M42.60,929.86 A5.5,8.8 15 0 1 44.85,945.49" fill="none" stroke="#1e1e1e" stroke-width="1.0"/>
<path d="M45.38,928.08 A5.5,8.8 15 0 1 47.63,943.71" fill="none" stroke="#1e1e1e" stroke-width="1.0"/>
<ellipse cx="36.50" cy="942.30" rx="5.5" ry="8.8" fill="#fff" stroke="#1e1e1e" stroke-width="1.7" transform="rotate(15 36.50 942.30)"/>
<ellipse cx="36.50" cy="942.30" rx="1.65" ry="2.64" fill="none" stroke="#1e1e1e" stroke-width="0.9" transform="rotate(15 36.50 942.30)"/>
</g>
<line x1="1000.0" y1="331.9" x2="1103.6" y2="267.5" stroke="#1e1e1e" stroke-width="1.1" stroke-dasharray="22,4,3,4" stroke-linecap="butt"/>
<line x1="956.0" y1="360.0" x2="1038.7" y2="308.0" stroke="#1e1e1e" stroke-width="1.1" stroke-dasharray="22,4,3,4" stroke-linecap="butt"/>
<line x1="956.0" y1="421.3" x2="1103.6" y2="330.5" stroke="#1e1e1e" stroke-width="1.1" stroke-dasharray="22,4,3,4" stroke-linecap="butt"/>
<ellipse cx="956.5" cy="360.5" rx="2.4" ry="3.6" fill="none" stroke="#1e1e1e" stroke-width="1.0" stroke-dasharray="2.2,1.6" transform="rotate(-25 956.5 360.5)"/>
<ellipse cx="956.5" cy="421.5" rx="2.4" ry="3.6" fill="none" stroke="#1e1e1e" stroke-width="1.0" stroke-dasharray="2.2,1.6" transform="rotate(-25 956.5 421.5)"/>
<path d="M1019.6,204.5 L1039.2,191.9 L1084,219.9 L1090.5,216.6 Q1092.5,215.8 1095.2,217.8 L1120.4,234.6 L1120.4,366.9 L1092.4,349.4 L1067.2,365.5 C1065,366.5 1063,366.6 1061.5,365.8 C1057,363.5 1052,358 1047,348 C1042,338 1040.5,325 1039.2,307.6 L1019.6,294.8 Z" fill="#fff" stroke="#1e1e1e" stroke-width="2.0" stroke-linejoin="round" stroke-linecap="round" />
<path d="M1022.5,204.2 L1061.2,232.2" fill="none" stroke="#1e1e1e" stroke-width="1.1" stroke-linejoin="round" stroke-linecap="round" />
<path d="M1022,209.8 L1060.4,233.8" fill="none" stroke="#1e1e1e" stroke-width="1.0" stroke-linejoin="round" stroke-linecap="round" />
<path d="M1063.0,232.5 L1091.0,217.1" fill="none" stroke="#1e1e1e" stroke-width="1.3" stroke-linejoin="round" stroke-linecap="round" />
<path d="M1065.8,233.2 L1091.7,219.2" fill="none" stroke="#1e1e1e" stroke-width="0.9" stroke-linejoin="round" stroke-linecap="round" />
<path d="M1061.6,234.6 L1061.6,364.8" fill="none" stroke="#1e1e1e" stroke-width="1.3" stroke-linejoin="round" stroke-linecap="round" />
<path d="M1066.5,234.6 L1066.5,363.4" fill="none" stroke="#1e1e1e" stroke-width="1.0" stroke-linejoin="round" stroke-linecap="round" />
<path d="M1090.3,220.6 L1090.3,349.4" fill="none" stroke="#1e1e1e" stroke-width="1.0" stroke-linejoin="round" stroke-linecap="round" />
<path d="M1095.2,219.2 L1095.2,350.1" fill="none" stroke="#1e1e1e" stroke-width="1.4" stroke-linejoin="round" stroke-linecap="round" />
<path d="M1095.2,222.0 L1118.3,236.7" fill="none" stroke="#1e1e1e" stroke-width="0.9" stroke-linejoin="round" stroke-linecap="round" />
<ellipse cx="1105.0" cy="266.1" rx="3.9" ry="7.8" fill="#fff" stroke="#1e1e1e" stroke-width="1.2" transform="rotate(-8 1105.0 266.1)"/>
<ellipse cx="1105.8" cy="266.7" rx="2.6" ry="6.2" fill="none" stroke="#1e1e1e" stroke-width="0.7" transform="rotate(-8 1105.0 266.1)"/>
<ellipse cx="1105.0" cy="329.1" rx="3.9" ry="7.8" fill="#fff" stroke="#1e1e1e" stroke-width="1.2" transform="rotate(-8 1105.0 329.1)"/>
<ellipse cx="1105.8" cy="329.7" rx="2.6" ry="6.2" fill="none" stroke="#1e1e1e" stroke-width="0.7" transform="rotate(-8 1105.0 329.1)"/>
<line x1="1056.0" y1="359.9" x2="1103.6" y2="330.5" stroke="#1e1e1e" stroke-width="1.1" stroke-dasharray="22,4,3,4" stroke-linecap="butt"/>
<line x1="1039.9" y1="306.0" x2="1103.6" y2="267.5" stroke="#1e1e1e" stroke-width="1.1" stroke-dasharray="22,4,3,4" stroke-linecap="butt"/>
<line x1="1123.9" y1="253.5" x2="1157.5" y2="232.5" stroke="#1e1e1e" stroke-width="1.1" stroke-dasharray="22,4,3,4" stroke-linecap="butt"/>
<line x1="1123.9" y1="316.5" x2="1157.5" y2="295.5" stroke="#1e1e1e" stroke-width="1.1" stroke-dasharray="22,4,3,4" stroke-linecap="butt"/>
<line x1="1124.0" y1="316.0" x2="1150.7" y2="300.0" stroke="#1e1e1e" stroke-width="1.1" stroke-dasharray="22,4,3,4" stroke-linecap="butt"/>
<ellipse cx="1182.8" cy="215.2" rx="5.6" ry="10.8" fill="#fff" stroke="#1e1e1e" stroke-width="1.3" transform="rotate(-16 1182.8 215.2)"/>
<g transform="translate(1156.7,232.3) rotate(-33.2)">
<path d="M0,0 L6.5,-4.2 L30.2,-4.8 L30.2,4.8 L7,4.4 Z" fill="#fff" stroke="#1e1e1e" stroke-width="1.2" stroke-linejoin="round"/>
<path d="M5.5,-3.8 C8.3,-2 8.3,2 6.3,3.8" fill="none" stroke="#1e1e1e" stroke-width="1.2"/>
<path d="M7.1,-3.2 C9.1,-1.5 9.1,1.5 7.7,3.4" fill="none" stroke="#1e1e1e" stroke-width="0.7"/>
<path d="M10.1,-4.6 C12.9,-2 12.9,2 10.9,4.6" fill="none" stroke="#1e1e1e" stroke-width="1.2"/>
<path d="M11.7,-4.0 C13.7,-1.5 13.7,1.5 12.3,4.2" fill="none" stroke="#1e1e1e" stroke-width="0.7"/>
<path d="M14.8,-4.6 C17.6,-2 17.6,2 15.6,4.6" fill="none" stroke="#1e1e1e" stroke-width="1.2"/>
<path d="M16.4,-4.0 C18.4,-1.5 18.4,1.5 17.0,4.2" fill="none" stroke="#1e1e1e" stroke-width="0.7"/>
<path d="M19.4,-4.6 C22.2,-2 22.2,2 20.2,4.6" fill="none" stroke="#1e1e1e" stroke-width="1.2"/>
<path d="M21.0,-4.0 C23.0,-1.5 23.0,1.5 21.6,4.2" fill="none" stroke="#1e1e1e" stroke-width="0.7"/>
<path d="M24.1,-4.6 C26.9,-2 26.9,2 24.9,4.6" fill="none" stroke="#1e1e1e" stroke-width="1.2"/>
<path d="M25.7,-4.0 C27.7,-1.5 27.7,1.5 26.3,4.2" fill="none" stroke="#1e1e1e" stroke-width="0.7"/>
<path d="M28.7,-4.6 C31.5,-2 31.5,2 29.5,4.6" fill="none" stroke="#1e1e1e" stroke-width="1.2"/>
<path d="M30.3,-4.0 C32.3,-1.5 32.3,1.5 30.9,4.2" fill="none" stroke="#1e1e1e" stroke-width="0.7"/>
</g>
<ellipse cx="1182.8" cy="277.8" rx="5.6" ry="10.8" fill="#fff" stroke="#1e1e1e" stroke-width="1.3" transform="rotate(-16 1182.8 277.8)"/>
<g transform="translate(1157.2,295.3) rotate(-34.4)">
<path d="M0,0 L6.5,-4.2 L30.0,-4.8 L30.0,4.8 L7,4.4 Z" fill="#fff" stroke="#1e1e1e" stroke-width="1.2" stroke-linejoin="round"/>
<path d="M5.5,-3.8 C8.3,-2 8.3,2 6.3,3.8" fill="none" stroke="#1e1e1e" stroke-width="1.2"/>
<path d="M7.1,-3.2 C9.1,-1.5 9.1,1.5 7.7,3.4" fill="none" stroke="#1e1e1e" stroke-width="0.7"/>
<path d="M10.1,-4.6 C12.9,-2 12.9,2 10.9,4.6" fill="none" stroke="#1e1e1e" stroke-width="1.2"/>
<path d="M11.7,-4.0 C13.7,-1.5 13.7,1.5 12.3,4.2" fill="none" stroke="#1e1e1e" stroke-width="0.7"/>
<path d="M14.7,-4.6 C17.5,-2 17.5,2 15.5,4.6" fill="none" stroke="#1e1e1e" stroke-width="1.2"/>
<path d="M16.3,-4.0 C18.3,-1.5 18.3,1.5 16.9,4.2" fill="none" stroke="#1e1e1e" stroke-width="0.7"/>
<path d="M19.3,-4.6 C22.1,-2 22.1,2 20.1,4.6" fill="none" stroke="#1e1e1e" stroke-width="1.2"/>
<path d="M20.9,-4.0 C22.9,-1.5 22.9,1.5 21.5,4.2" fill="none" stroke="#1e1e1e" stroke-width="0.7"/>
<path d="M23.9,-4.6 C26.7,-2 26.7,2 24.7,4.6" fill="none" stroke="#1e1e1e" stroke-width="1.2"/>
<path d="M25.5,-4.0 C27.5,-1.5 27.5,1.5 26.1,4.2" fill="none" stroke="#1e1e1e" stroke-width="0.7"/>
<path d="M28.5,-4.6 C31.3,-2 31.3,2 29.3,4.6" fill="none" stroke="#1e1e1e" stroke-width="1.2"/>
<path d="M30.1,-4.0 C32.1,-1.5 32.1,1.5 30.7,4.2" fill="none" stroke="#1e1e1e" stroke-width="0.7"/>
</g>
<line x1="1280.0" y1="524.5" x2="1313.6" y2="502.8" stroke="#1e1e1e" stroke-width="1.1" stroke-dasharray="22,4,3,4" stroke-linecap="butt"/>
<line x1="1280.0" y1="583.3" x2="1315.0" y2="560.9" stroke="#1e1e1e" stroke-width="1.1" stroke-dasharray="22,4,3,4" stroke-linecap="butt"/>
<line x1="1242.7" y1="549.3" x2="1280.0" y2="524.5" stroke="#1e1e1e" stroke-width="1.1" stroke-dasharray="22,4,3,4" stroke-linecap="butt"/>
<line x1="1242.7" y1="609.3" x2="1280.0" y2="583.3" stroke="#1e1e1e" stroke-width="1.1" stroke-dasharray="22,4,3,4" stroke-linecap="butt"/>
<ellipse cx="1243" cy="549.5" rx="2.4" ry="3.6" fill="none" stroke="#1e1e1e" stroke-width="1.0" stroke-dasharray="2.2,1.6" transform="rotate(-25 1243 549.5)"/>
<ellipse cx="1243" cy="609.5" rx="2.4" ry="3.6" fill="none" stroke="#1e1e1e" stroke-width="1.0" stroke-dasharray="2.2,1.6" transform="rotate(-25 1243 609.5)"/>
<line x1="1380.1" y1="459.4" x2="1415.1" y2="437.7" stroke="#1e1e1e" stroke-width="1.1" stroke-dasharray="22,4,3,4" stroke-linecap="butt"/>
<line x1="1380.1" y1="518.2" x2="1416.5" y2="495.8" stroke="#1e1e1e" stroke-width="1.1" stroke-dasharray="22,4,3,4" stroke-linecap="butt"/>
<path d="M1314.3,409.7 L1338.8,424.4 L1341.6,425.1 L1344.4,428.6 L1344.4,435.6 L1358.4,444.0 L1358.4,471.3 L1357.0,560.2 L1357.0,561.6 L1343.7,553.2 L1338.8,549.7 L1338.8,560.2 C1336.0,572.8 1329.0,575.6 1324.8,579.8 L1323.4,583.3 L1315.0,579.8 Z" fill="#fff" stroke="#1e1e1e" stroke-width="1.6" stroke-linejoin="round" stroke-linecap="round" />
<path d="M1314.3,409.7 L1315.0,579.8" fill="none" stroke="#1e1e1e" stroke-width="1.6" stroke-linejoin="round" stroke-linecap="round" />
<path d="M1316.7,445.4 L1316.7,542.0" fill="none" stroke="#1e1e1e" stroke-width="1.4" stroke-linejoin="round" stroke-linecap="round" />
<path d="M1338.8,425.8 L1341.6,430.0 L1341.6,434.2" fill="none" stroke="#1e1e1e" stroke-width="0.9" stroke-linejoin="round" stroke-linecap="round" />
<path d="M1316.4,443.3 L1334.6,430.7 L1380.1,459.4 L1358.4,471.3 Z" fill="#fff" stroke="#1e1e1e" stroke-width="1.5" stroke-linejoin="round" stroke-linecap="round" />
<path d="M1317.8,447.5 L1358.4,473.4" fill="none" stroke="#1e1e1e" stroke-width="1.0" stroke-linejoin="round" stroke-linecap="round" />
<path d="M1358.4,471.3 L1358.4,473.4 L1380.1,461.5 L1380.1,459.4" fill="none" stroke="#1e1e1e" stroke-width="1.0" stroke-linejoin="round" stroke-linecap="round" />
<path d="M1316.4,443.3 L1316.4,447.5" fill="none" stroke="#1e1e1e" stroke-width="1.2" stroke-linejoin="round" stroke-linecap="round" />
<path d="M1357.7,474.8 L1358.4,471.3" fill="none" stroke="#1e1e1e" stroke-width="1.2" stroke-linejoin="round" stroke-linecap="round" />
<path d="M1358.7,488 L1379.3,476.5 L1379.3,548.5 L1358.7,559.3 Z" fill="#fff" stroke="#1e1e1e" stroke-width="1.5" stroke-linejoin="round" stroke-linecap="round" />
<path d="M1358.7,488.3 L1378.5,476.8" fill="none" stroke="#1e1e1e" stroke-width="2.2" stroke-linejoin="round" stroke-linecap="round" />
<path d="M1357.3,478 L1357.3,560" fill="none" stroke="#1e1e1e" stroke-width="1.8" stroke-linejoin="round" stroke-linecap="round" />
<path d="M1360,496 L1373.3,488.7 L1373.7,501.3 L1360,509.3" fill="none" stroke="#1e1e1e" stroke-width="1.5" stroke-linejoin="round" stroke-linecap="round" />
<path d="M1361,500 L1372.3,493.3 L1372.5,500.5" fill="none" stroke="#1e1e1e" stroke-width="0.8" stroke-linejoin="round" stroke-linecap="round" />
<path d="M1360.7,528 L1373.3,520.7 L1373.7,526.7 L1360.7,534" fill="none" stroke="#1e1e1e" stroke-width="1.4" stroke-linejoin="round" stroke-linecap="round" />
<path d="M1361,531.5 L1372.8,524.8" fill="none" stroke="#1e1e1e" stroke-width="0.8" stroke-linejoin="round" stroke-linecap="round" />
<path d="M1360.7,540 L1370,535.3 L1370,549.3 L1360.7,555.3" fill="none" stroke="#1e1e1e" stroke-width="1.4" stroke-linejoin="round" stroke-linecap="round" />
<path d="M1361,552.5 L1369.2,547.2" fill="none" stroke="#1e1e1e" stroke-width="0.8" stroke-linejoin="round" stroke-linecap="round" />
<path d="M1355.6,496.7 L1357.3,496.7 L1357.3,508.7 L1355.6,508.7 Z" fill="#8a8a8a" stroke="#1e1e1e" stroke-width="0.7" stroke-linejoin="round" stroke-linecap="round" />
<path d="M1355.6,528.7 L1357.3,528.7 L1357.3,534 L1355.6,534 Z" fill="#8a8a8a" stroke="#1e1e1e" stroke-width="0.7" stroke-linejoin="round" stroke-linecap="round" />
<path d="M1355.6,541.3 L1357.3,541.3 L1357.3,555.3 L1355.6,555.3 Z" fill="#8a8a8a" stroke="#1e1e1e" stroke-width="0.7" stroke-linejoin="round" stroke-linecap="round" />
<ellipse cx="1439.5" cy="421.0" rx="5.6" ry="10.8" fill="#fff" stroke="#1e1e1e" stroke-width="1.3" transform="rotate(-16 1439.5 421.0)"/>
<g transform="translate(1415.1,437.7) rotate(-34.4)">
<path d="M0,0 L6.5,-4.2 L28.6,-4.8 L28.6,4.8 L7,4.4 Z" fill="#fff" stroke="#1e1e1e" stroke-width="1.2" stroke-linejoin="round"/>
<path d="M5.5,-3.8 C8.3,-2 8.3,2 6.3,3.8" fill="none" stroke="#1e1e1e" stroke-width="1.2"/>
<path d="M7.1,-3.2 C9.1,-1.5 9.1,1.5 7.7,3.4" fill="none" stroke="#1e1e1e" stroke-width="0.7"/>
<path d="M9.8,-4.6 C12.6,-2 12.6,2 10.6,4.6" fill="none" stroke="#1e1e1e" stroke-width="1.2"/>
<path d="M11.4,-4.0 C13.4,-1.5 13.4,1.5 12.0,4.2" fill="none" stroke="#1e1e1e" stroke-width="0.7"/>
<path d="M14.1,-4.6 C16.9,-2 16.9,2 14.9,4.6" fill="none" stroke="#1e1e1e" stroke-width="1.2"/>
<path d="M15.7,-4.0 C17.7,-1.5 17.7,1.5 16.3,4.2" fill="none" stroke="#1e1e1e" stroke-width="0.7"/>
<path d="M18.4,-4.6 C21.2,-2 21.2,2 19.2,4.6" fill="none" stroke="#1e1e1e" stroke-width="1.2"/>
<path d="M20.0,-4.0 C22.0,-1.5 22.0,1.5 20.6,4.2" fill="none" stroke="#1e1e1e" stroke-width="0.7"/>
<path d="M22.8,-4.6 C25.6,-2 25.6,2 23.6,4.6" fill="none" stroke="#1e1e1e" stroke-width="1.2"/>
<path d="M24.4,-4.0 C26.4,-1.5 26.4,1.5 25.0,4.2" fill="none" stroke="#1e1e1e" stroke-width="0.7"/>
<path d="M27.1,-4.6 C29.9,-2 29.9,2 27.9,4.6" fill="none" stroke="#1e1e1e" stroke-width="1.2"/>
<path d="M28.7,-4.0 C30.7,-1.5 30.7,1.5 29.3,4.2" fill="none" stroke="#1e1e1e" stroke-width="0.7"/>
</g>
<ellipse cx="1441.0" cy="479.0" rx="5.6" ry="10.8" fill="#fff" stroke="#1e1e1e" stroke-width="1.3" transform="rotate(-16 1441.0 479.0)"/>
<g transform="translate(1416.5,495.8) rotate(-34.4)">
<path d="M0,0 L6.5,-4.2 L28.7,-4.8 L28.7,4.8 L7,4.4 Z" fill="#fff" stroke="#1e1e1e" stroke-width="1.2" stroke-linejoin="round"/>
<path d="M5.5,-3.8 C8.3,-2 8.3,2 6.3,3.8" fill="none" stroke="#1e1e1e" stroke-width="1.2"/>
<path d="M7.1,-3.2 C9.1,-1.5 9.1,1.5 7.7,3.4" fill="none" stroke="#1e1e1e" stroke-width="0.7"/>
<path d="M9.8,-4.6 C12.6,-2 12.6,2 10.6,4.6" fill="none" stroke="#1e1e1e" stroke-width="1.2"/>
<path d="M11.4,-4.0 C13.4,-1.5 13.4,1.5 12.0,4.2" fill="none" stroke="#1e1e1e" stroke-width="0.7"/>
<path d="M14.2,-4.6 C17.0,-2 17.0,2 15.0,4.6" fill="none" stroke="#1e1e1e" stroke-width="1.2"/>
<path d="M15.8,-4.0 C17.8,-1.5 17.8,1.5 16.4,4.2" fill="none" stroke="#1e1e1e" stroke-width="0.7"/>
<path d="M18.5,-4.6 C21.3,-2 21.3,2 19.3,4.6" fill="none" stroke="#1e1e1e" stroke-width="1.2"/>
<path d="M20.1,-4.0 C22.1,-1.5 22.1,1.5 20.7,4.2" fill="none" stroke="#1e1e1e" stroke-width="0.7"/>
<path d="M22.9,-4.6 C25.7,-2 25.7,2 23.7,4.6" fill="none" stroke="#1e1e1e" stroke-width="1.2"/>
<path d="M24.5,-4.0 C26.5,-1.5 26.5,1.5 25.1,4.2" fill="none" stroke="#1e1e1e" stroke-width="0.7"/>
<path d="M27.2,-4.6 C30.0,-2 30.0,2 28.0,4.6" fill="none" stroke="#1e1e1e" stroke-width="1.2"/>
<path d="M28.8,-4.0 C30.8,-1.5 30.8,1.5 29.4,4.2" fill="none" stroke="#1e1e1e" stroke-width="0.7"/>
</g>
<path d="M1484.2,683.8 L1498.2,691.5 L1499.6,746.8 L1484.2,755.2 Z" fill="#b1b2b6" stroke="#1e1e1e" stroke-width="1.3" stroke-linejoin="round" stroke-linecap="round" />
<path d="M1484.2,700.6 L1498.2,692.0" fill="none" stroke="#1e1e1e" stroke-width="1.0" stroke-linejoin="round" stroke-linecap="round" />
<path d="M1452.0,629.5 L1452.0,611.0 L1454.1,608.9 L1471.6,619.4 L1472.5,620.8 L1456.2,629.2 Z" fill="#b1b2b6" stroke="#1e1e1e" stroke-width="1.3" stroke-linejoin="round" stroke-linecap="round" />
<path d="M1442.0,632.0 L1447.0,629.0 L1452.0,629.5 L1447.8,634.8 Z" fill="#b1b2b6" stroke="#1e1e1e" stroke-width="1.0" stroke-linejoin="round" stroke-linecap="round" />
<path d="M722.4,1092.0 L1436.6,629.9 L1442.0,632.0 L1447.8,634.8 L1452.0,632.0 L1452.0,611.0 L1454.1,608.9 L1471.6,619.4 L1480.0,622.9" fill="none" stroke="#1e1e1e" stroke-width="1.6" stroke-linejoin="round" stroke-linecap="round" />
<path d="M1480,622.9 C1483,630 1484.2,645 1484.2,665 L1484.2,788.8 L745.2,1265.6" fill="none" stroke="#1e1e1e" stroke-width="1.6" stroke-linejoin="round" stroke-linecap="round" />
<line x1="742.4" y1="1101.6" x2="1480.0" y2="622.9" stroke="#1e1e1e" stroke-width="1.3" stroke-linecap="round"/>
<ellipse cx="1428.2" cy="643.2" rx="5" ry="2.8" fill="#fff" stroke="#1e1e1e" stroke-width="1.3" transform="rotate(-8 1428.2 643.2)"/>
<path d="M742.4,1101.6 C743.5,1115 744,1140 744.3,1175 L745.2,1252.4 L743.6,1252.8 L742.4,1254 L742.8,1264.4 L745.2,1265.6" fill="none" stroke="#1e1e1e" stroke-width="1.6" stroke-linejoin="round" stroke-linecap="round" />
<path d="M722.4,1092.0 L742.4,1101.6" fill="none" stroke="#1e1e1e" stroke-width="1.6" stroke-linejoin="round" stroke-linecap="round" />
<path d="M722.4,1092 C717,1130 712,1165 709.5,1188 C709.2,1191 708.5,1194 707,1197" fill="none" stroke="#1e1e1e" stroke-width="1.5" stroke-linejoin="round" stroke-linecap="round" />
<path d="M708.5,1191.2 L691.4,1202.1 L698.3,1206.1" fill="none" stroke="#1e1e1e" stroke-width="1.4" stroke-linejoin="round" stroke-linecap="round" />
<path d="M691.9,1202.4 C696,1201 700,1200.5 703.7,1199 L744.4,1175.6" fill="none" stroke="#1e1e1e" stroke-width="2.0" stroke-linejoin="round" stroke-linecap="round" />
<path d="M697.6,1208.0 L680.4,1218.0 L680.4,1228.0 L687.6,1232.4 L700.4,1241.2 L703.6,1240.4 L744.4,1214.8" fill="none" stroke="#1e1e1e" stroke-width="1.5" stroke-linejoin="round" stroke-linecap="round" />
<path d="M686.0,1230.0 L698.8,1222.4" fill="none" stroke="#1e1e1e" stroke-width="1.2" stroke-linejoin="round" stroke-linecap="round" />
<path d="M680.4,1228.0 L700.4,1239.6" fill="none" stroke="#1e1e1e" stroke-width="0.9" stroke-linejoin="round" stroke-linecap="round" />
<path d="M699.6,1206 L702.8,1204.6 L703.2,1239.5 L700.2,1241 Z" fill="#3a3a3a" stroke="#1e1e1e" stroke-width="0.8" stroke-linejoin="round" stroke-linecap="round" />
<path d="M702.0,1204.4 L711.6,1210.0 L727.6,1198.8 L730.8,1199.2 L733.2,1200.8 L734.8,1197.6 L736.8,1196.4 L744.4,1191.6" fill="none" stroke="#1e1e1e" stroke-width="1.2" stroke-linejoin="round" stroke-linecap="round" />
<path d="M703.2,1203.2 L711.6,1208.8 L727.6,1197.6 L730.8,1198.0 L733.2,1199.6 L734.8,1196.2 L736.8,1195.2 L744.4,1190.4" fill="none" stroke="#1e1e1e" stroke-width="0.8" stroke-linejoin="round" stroke-linecap="round" />
<path d="M742.8,1113.4 L740,1114.5 L739.8,1118 L736.2,1121.5 L735,1150 L737.5,1155 L740.5,1159.5 L743.5,1159" fill="none" stroke="#1e1e1e" stroke-width="1.3" stroke-linejoin="round" stroke-linecap="round" />
<path d="M743,1117.5 L741.6,1118 L741.6,1120.8 L738.2,1123.5 L737.2,1149 L741,1156 L743.5,1156" fill="none" stroke="#1e1e1e" stroke-width="0.8" stroke-linejoin="round" stroke-linecap="round" />
<path d="M737.5,1128 L742,1138 L738,1148" fill="none" stroke="#1e1e1e" stroke-width="0.7" stroke-linejoin="round" stroke-linecap="round" />
<path d="M778.8,1104.6 L765.2,1112.6 C763.5,1113.8 762.8,1115 762.8,1116.6 L762.8,1123 C761,1125.5 758.5,1127.5 757.2,1129.4 C755.5,1131.5 754,1134 754,1135.8 L753.2,1147 C753.5,1149.5 754.5,1151.5 755.6,1151.8 L761.2,1153 C762.2,1153.5 762.8,1154 762.8,1155 L763.6,1161.4 L765.2,1161.8 L780.4,1151.8 L780.4,1127 L778,1126.6 L767.6,1132.6 C766.5,1132.8 766,1132 766,1131 L766,1121.4 C766,1120 766.6,1118.8 767.6,1118.2 L778.8,1111 C780,1110.4 780.3,1109.5 780,1108.6 L779.6,1105.5 Z" fill="#fff" stroke="#1e1e1e" stroke-width="1.3" stroke-linejoin="round" stroke-linecap="round" />
<path d="M754.8,1145.4 L780.4,1129.4" fill="none" stroke="#1e1e1e" stroke-width="0.9" stroke-linejoin="round" stroke-linecap="round" />
<path d="M756.8,1142 L779,1128" fill="none" stroke="#1e1e1e" stroke-width="0.7" stroke-linejoin="round" stroke-linecap="round" />
<path d="M771.6,1136.6 L777.2,1145.4" fill="none" stroke="#1e1e1e" stroke-width="0.9" stroke-linejoin="round" stroke-linecap="round" />
<path d="M766.5,1114 L779,1106.5" fill="none" stroke="#1e1e1e" stroke-width="0.7" stroke-linejoin="round" stroke-linecap="round" />
<path d="M792.4,1094.2 L809,1083 Q814,1080.5 816.5,1084 Q818,1087 817.5,1090 L816.8,1100 Q816.4,1103 813,1105.5 L794.5,1115.5 Q790,1117 789,1113 L788.4,1102 Q788.5,1097 792.4,1094.2 Z" fill="#fff" stroke="#1e1e1e" stroke-width="1.4" stroke-linejoin="round" stroke-linecap="round" />
<ellipse cx="798.8" cy="1107.6" rx="3.2" ry="3.6" fill="none" stroke="#1e1e1e" stroke-width="1.2"/>
<path d="M790.8,1103 L802,1097.4 C804,1097 806,1099 807,1101" fill="none" stroke="#1e1e1e" stroke-width="1.0" stroke-linejoin="round" stroke-linecap="round" />
<path d="M802,1097.4 L810,1095 L816.6,1098 M810,1095 L809.2,1085.5" fill="none" stroke="#1e1e1e" stroke-width="0.9" stroke-linejoin="round" stroke-linecap="round" />
<path d="M792,1097.5 L804,1090 L813,1086" fill="none" stroke="#1e1e1e" stroke-width="0.8" stroke-linejoin="round" stroke-linecap="round" />
<ellipse cx="800.4" cy="1131.8" rx="4.6" ry="7.2" fill="#fff" stroke="#1e1e1e" stroke-width="1.3" transform="rotate(40 800.4 1131.8)"/>
<path d="M843.5,1069 L844,1071.3 C845.5,1072.5 847,1073.5 847.2,1075.1 C847.8,1078 847.9,1080 847.7,1083 C847.6,1087 847.3,1090 846.7,1092.3 C846,1094.5 844.2,1095.5 843.9,1097 L843.9,1108.7 C843.8,1110 843.4,1111 842.5,1111.5 L829,1119.9 C827.8,1120.4 826.4,1120.2 826.2,1119.4 L825.7,1108.7 L825.7,1099.3 C825.8,1097.5 826,1096 827.1,1095.1 L833.2,1090.5 C834.2,1089.8 834.6,1088.8 834.6,1087.7 L834.6,1077" fill="#fff" stroke="#1e1e1e" stroke-width="1.4" stroke-linejoin="round" stroke-linecap="round" />
<path d="M826.5,1074.8 L841.2,1062.6 Q843.8,1061.5 844.2,1064.5 L844,1068.8 L828.2,1079.6 Q825.5,1080.5 825.3,1077.5 Z" fill="#fff" stroke="#1e1e1e" stroke-width="1.4" stroke-linejoin="round" stroke-linecap="round" />
<path d="M828.2,1074.4 L829.3,1078.8" fill="none" stroke="#1e1e1e" stroke-width="1.0" stroke-linejoin="round" stroke-linecap="round" />
<path d="M830.4,1072.7 L831.5,1077.1" fill="none" stroke="#1e1e1e" stroke-width="1.0" stroke-linejoin="round" stroke-linecap="round" />
<path d="M832.6,1071.1 L833.7,1075.5" fill="none" stroke="#1e1e1e" stroke-width="1.0" stroke-linejoin="round" stroke-linecap="round" />
<path d="M834.8,1069.4 L835.9,1073.8" fill="none" stroke="#1e1e1e" stroke-width="1.0" stroke-linejoin="round" stroke-linecap="round" />
<path d="M837.0,1067.8 L838.1,1072.2" fill="none" stroke="#1e1e1e" stroke-width="1.0" stroke-linejoin="round" stroke-linecap="round" />
<path d="M839.2,1066.1 L840.3,1070.5" fill="none" stroke="#1e1e1e" stroke-width="1.0" stroke-linejoin="round" stroke-linecap="round" />
<path d="M841.4,1064.5 L842.5,1068.9" fill="none" stroke="#1e1e1e" stroke-width="1.0" stroke-linejoin="round" stroke-linecap="round" />
<path d="M837.4,1073.7 L837.4,1099.3 C837.4,1101 836.5,1101.8 835.5,1102.1 L831.3,1105.4 C830.7,1106 830.4,1106.5 830.4,1107.3 L830.4,1118" fill="none" stroke="#1e1e1e" stroke-width="1.1" stroke-linejoin="round" stroke-linecap="round" />
<path d="M826.2,1109.1 L830.4,1106.8 M830.9,1111.9 L843.5,1104.5" fill="none" stroke="#1e1e1e" stroke-width="1.0" stroke-linejoin="round" stroke-linecap="round" />
<path d="M870.2,1228 Q870.2,1225.2 872.6,1223.7 L996.4,1145.1 Q998.8,1143.6 998.9,1146.4 L1000.9,1205.4 Q1001,1208.2 998.6,1209.7 L873.2,1289.9 Q870.8,1291.4 870.8,1288.6 Z" fill="#b1b2b6" stroke="#1e1e1e" stroke-width="2.1" stroke-linejoin="round" stroke-linecap="round" />
<path d="M873.6,1289.7 L873.8,1227.7 L998.8,1148.1" fill="none" stroke="#1e1e1e" stroke-width="1.0" stroke-linejoin="round" stroke-linecap="round" />
</svg>
</body></html>
